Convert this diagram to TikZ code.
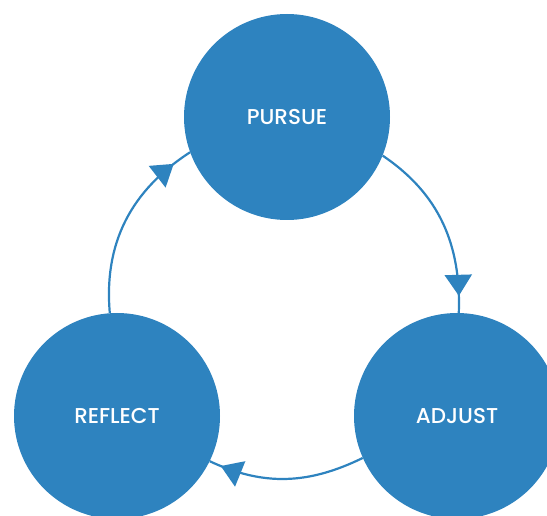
\documentclass[tikz,border=0pt]{standalone}
\usepackage{fontspec}
\setsansfont{Poppins Medium}
\usetikzlibrary{arrows.meta,decorations.markings}

\definecolor{cycleblue}{RGB}{46,131,191}

\begin{document}
\begin{tikzpicture}[x=1pt,y=1pt]

\tikzstyle{stage} = [circle, fill=cycleblue, text=white, minimum size=206pt, inner sep=0pt, font=\sffamily\fontsize{21.5}{25}\selectfont]
\tikzstyle{flow} = [draw=cycleblue, line width=2.2pt, postaction={decorate}]

\useasboundingbox (0,0) rectangle (547,515);

% the three stages
\node [stage] (pursue) at (287,398) {PURSUE};
\node [stage] (reflect) at (117,99) {REFLECT};
\node [stage] (adjust) at (457,99) {ADJUST};

% cycle arrows, tip sits a little before the circle
\draw [flow, decoration={markings, mark=at position -17pt with {\arrow{Triangle[width=27pt,length=21pt]}}}] (pursue.-22) to[out=-34, in=88] (adjust.89);
\draw [flow, decoration={markings, mark=at position -12pt with {\arrow{Triangle[width=27pt,length=21pt]}}}] (adjust.204) to[out=206, in=-25] (reflect.-26);
\draw [flow, decoration={markings, mark=at position -20pt with {\arrow{Triangle[width=27pt,length=21pt]}}}] (reflect.94) to[out=95, in=213] (pursue.200);
\end{tikzpicture}
\end{document}
